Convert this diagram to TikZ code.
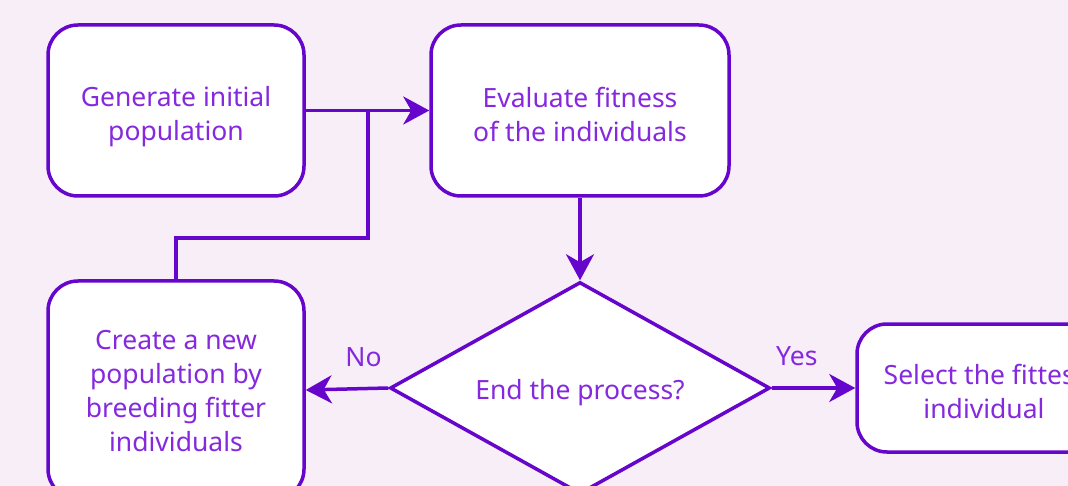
\documentclass[tikz,border=0pt]{standalone}
\usepackage{fontspec}
\setmainfont{Noto Sans}
\usetikzlibrary{shapes.geometric,arrows.meta}
\definecolor{bgc}{HTML}{F8EEF8}
\definecolor{linec}{HTML}{6606CC}
\definecolor{textc}{HTML}{8528DE}
\tikzset{
  procbox/.style={draw=linec, line width=3.5pt, fill=white, rounded corners=30pt, inner sep=0pt},
  decbox/.style={draw=linec, line width=3.5pt, fill=white, diamond, aspect=1.7925, inner sep=0pt},
  txt/.style={align=center, text=textc, font=\fontsize{26.5}{34}\selectfont, inner sep=0pt},
  conn/.style={draw=linec, line width=3.5pt, -{Stealth[length=26pt,width=28pt,inset=8pt]}},
  plainconn/.style={draw=linec, line width=3.5pt},
  lbl/.style={text=textc, font=\fontsize{26.5}{28}\selectfont}
}
\begin{document}
\begin{tikzpicture}[x=1pt,y=-1pt]
\useasboundingbox (0,0) rectangle (1068,486);
\fill[bgc] (0,0) rectangle (1068,486);
\node[procbox, minimum width=256pt, minimum height=171pt] (gen) at (176,110.5) {};
\node[procbox, minimum width=298pt, minimum height=171pt] (eval) at (580,110.5) {};
\node[decbox, minimum width=380pt, minimum height=212pt] (dec) at (580,388) {};
\node[procbox, minimum width=256pt, minimum height=218pt] (new) at (176,390) {};
\node[procbox, minimum width=254pt, minimum height=128pt] (sel) at (984,388) {};
\node[txt] (gent) at ([yshift=-6pt]gen.center) {Generate initial\\population};
\node[txt] (evalt) at ([yshift=-3.5pt]eval.center) {Evaluate fitness\\of the individuals};
\node[txt] (dect) at ([yshift=-5pt]dec.center) {End the process?};
\node[txt] (newt) at ([yshift=-1pt]new.center) {Create a new\\population by\\breeding fitter\\individuals};
\node[txt] (selt) at ([yshift=-3pt]sel.center) {Select the fittest\\individual};
\coordinate (j1) at (368,110.5);
\coordinate (j2) at (368,238);
\coordinate (j3) at (176,238);
\draw[conn] (gen.east) -- (eval.west);
\draw[plainconn] (new.north) -- (j3) -- (j2) -- (j1);
\draw[conn] (eval.south) -- (dec.north);
\draw[conn] (dec.west) -- node[lbl, above=17pt, pos=0.3] (no) {No} (new.east);
\draw[conn] (dec.east) -- node[lbl, above=17pt, pos=0.3] (yes) {Yes} (sel.west);
\end{tikzpicture}
\end{document}
